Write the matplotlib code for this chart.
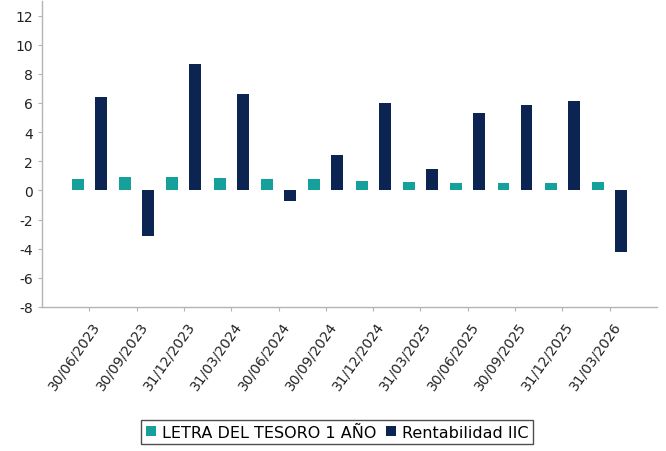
import numpy as np
import matplotlib
matplotlib.use('Agg')
import matplotlib.pyplot as plt
from matplotlib import transforms

plt.rcParams['font.family'] = ['DejaVu Sans']
plt.rcParams['axes.unicode_minus'] = False

# quarter-end dates
fechas = ['30/06/2023', '30/09/2023', '31/12/2023', '31/03/2024',
          '30/06/2024', '30/09/2024', '31/12/2024', '31/03/2025',
          '30/06/2025', '30/09/2025', '31/12/2025', '31/03/2026']
letra_tesoro = [0.80, 0.94, 0.90, 0.83, 0.80, 0.76, 0.64, 0.55, 0.48, 0.50, 0.50, 0.55]
rentabilidad_iic = [6.39, -3.15, 8.67, 6.62, -0.74, 2.46, 5.98, 1.45, 5.29, 5.86, 6.11, -4.23]

teal = '#16a09c'
navy = '#0b2452'
grey = '#b4b4b4'

fig = plt.figure(figsize=(6.66, 4.52), dpi=100)
ax = fig.add_axes([0.063, 0.3186, 0.9235, 0.677])

x = np.arange(len(fechas))
w = 0.25
ax.bar(x - 0.243, letra_tesoro, w, color=teal, label='LETRA DEL TESORO 1 AÑO')
ax.bar(x + 0.243, rentabilidad_iic, w, color=navy, label='Rentabilidad IIC')

ax.set_xlim(-1, len(fechas))
ax.set_ylim(-8, 13)
ax.set_yticks(range(-8, 13, 2))

ax.spines['top'].set_visible(False)
ax.spines['right'].set_visible(False)
for s in ['left', 'bottom']:
    ax.spines[s].set_color(grey)
    ax.spines[s].set_linewidth(1.0)
ax.tick_params(axis='both', colors=grey, labelcolor='#222222', labelsize=10,
               length=3, width=0.8)

ax.set_xticks(x)
ax.set_xticklabels(fechas, rotation=55, ha='right', va='center',
                   rotation_mode='anchor')
offset = transforms.ScaledTranslation(8 / 100, -7 / 100, fig.dpi_scale_trans)
for lbl in ax.get_xticklabels():
    lbl.set_transform(lbl.get_transform() + offset)

leg = ax.legend(loc='center', bbox_to_anchor=(337 / 666, (452 - 433) / 452),
                bbox_transform=fig.transFigure,
                ncol=2, fontsize=11.5, frameon=True, fancybox=False,
                handlelength=0.65, handleheight=0.65, handletextpad=0.35,
                columnspacing=0.6, borderpad=0.3, borderaxespad=0)
leg.get_frame().set_edgecolor('#222222')
leg.get_frame().set_linewidth(1.0)

fig.savefig('out.png', dpi=100)
